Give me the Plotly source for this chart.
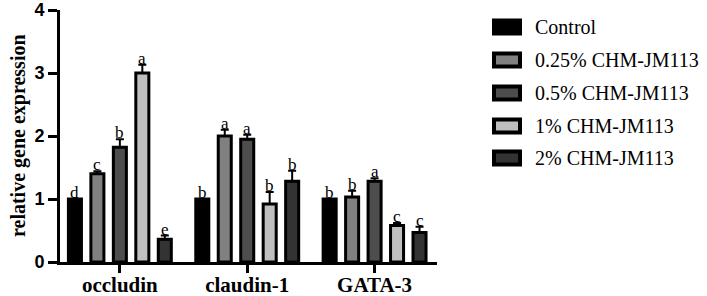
import plotly.graph_objects as go

genes = ["occludin", "claudin-1", "GATA-3"]
series = ["Control", "0.25% CHM-JM113", "0.5% CHM-JM113", "1% CHM-JM113", "2% CHM-JM113"]
colors = ["#000000", "#808080", "#4d4d4d", "#bfbfbf", "#333333"]

control = [1.00, 1.00, 1.00]
chm_025 = [1.40, 2.00, 1.03]
chm_05 = [1.82, 1.95, 1.28]
chm_1 = [3.00, 0.92, 0.58]
chm_2 = [0.36, 1.28, 0.47]

err_control = [0.0, 0.0, 0.0]
err_025 = [0.04, 0.10, 0.10]
err_05 = [0.13, 0.07, 0.05]
err_1 = [0.13, 0.19, 0.04]
err_2 = [0.06, 0.17, 0.09]

let_control = ["d", "b", "b"]
let_025 = ["c", "a", "b"]
let_05 = ["b", "a", "a"]
let_1 = ["a", "b", "c"]
let_2 = ["e", "b", "c"]

values = [control, chm_025, chm_05, chm_1, chm_2]
errors = [err_control, err_025, err_05, err_1, err_2]
letters = [let_control, let_025, let_05, let_1, let_2]

W, H = 707, 296
ML, MT = 60, 10
PLOT_R, PLOT_B = 437, 262
MR, MB = W - PLOT_R, H - PLOT_B
PW = W - ML - MR
PH = H - MT - MB
bargap = 0.118
bargroupgap = 0.42

fig = go.Figure()
for i, name in enumerate(series):
    fig.add_trace(go.Bar(
        x=genes, y=values[i], name=name,
        marker=dict(color=colors[i], line=dict(color="#000000", width=3)),
        error_y=dict(type="data", array=errors[i], arrayminus=[0] * 3,
                     symmetric=False, color="#000000", thickness=2, width=4,
                     visible=any(e > 0 for e in errors[i])),
        showlegend=False,
    ))

serif = "Liberation Serif"
sans = "Liberation Sans"

annotations = []
slot = (1 - bargap) / len(series)
for i in range(len(series)):
    for j in range(len(genes)):
        xpos = j + (i - (len(series) - 1) / 2) * slot
        annotations.append(dict(
            x=xpos, y=values[i][j] + errors[i][j], xref="x", yref="y",
            text=letters[i][j], showarrow=False, yanchor="bottom",
            yshift=-5, font=dict(family=serif, size=17, color="#000000")))

# custom legend (pixel positions converted to paper coords)
leg_y = [27, 60, 93, 126, 158]
for i, name in enumerate(series):
    py = leg_y[i]
    y0 = (H - MB - (py + 6.5)) / PH
    y1 = (H - MB - (py - 6.5)) / PH
    x0 = (494 - ML) / PW
    x1 = (520 - ML) / PW
    fig.add_shape(type="rect", xref="paper", yref="paper", x0=x0, x1=x1, y0=y0, y1=y1,
                  fillcolor=colors[i], line=dict(color="#000000", width=4))
    annotations.append(dict(
        x=(533 - ML) / PW, y=(H - MB - py) / PH, xref="paper", yref="paper",
        text=name, showarrow=False, xanchor="left", yanchor="middle",
        font=dict(family=serif, size=20, color="#000000")))

annotations.append(dict(
    x=(18 - ML) / PW, y=0.5, xref="paper", yref="paper",
    text="<b>relative gene expression</b>", textangle=-90, showarrow=False,
    xanchor="center", yanchor="middle",
    font=dict(family=serif, size=20, color="#000000")))

fig.update_layout(
    width=W, height=H,
    margin=dict(l=ML, r=MR, t=MT, b=MB, pad=0, autoexpand=False),
    paper_bgcolor="white", plot_bgcolor="white",
    barmode="group", bargap=bargap, bargroupgap=bargroupgap,
    annotations=annotations,
    xaxis=dict(
        type="category", range=[-0.47, 2.49], automargin=False,
        showline=True, linecolor="#000000", linewidth=3,
        ticks="outside", ticklen=8, tickwidth=3, tickcolor="#000000",
        tickfont=dict(family=serif, size=21, color="#000000"),
        tickvals=genes, ticktext=["<b>%s</b>" % g for g in genes],
        showgrid=False, zeroline=False, ticklabeloverflow="allow",
        ticklabelstandoff=-6,
    ),
    yaxis=dict(
        range=[0, 4], tickvals=[0, 1, 2, 3, 4], automargin=False,
        showline=True, linecolor="#000000", linewidth=3,
        ticks="outside", ticklen=9, tickwidth=3, tickcolor="#000000",
        tickfont=dict(family=sans, size=18, color="#000000"),
        ticktext=["<b>%d</b>" % v for v in [0, 1, 2, 3, 4]],
        showgrid=False, zeroline=False, ticklabeloverflow="allow",
    ),
)

fig.write_html("out.html", post_script="document.body.style.margin='0';",
               config={"displayModeBar": False})
